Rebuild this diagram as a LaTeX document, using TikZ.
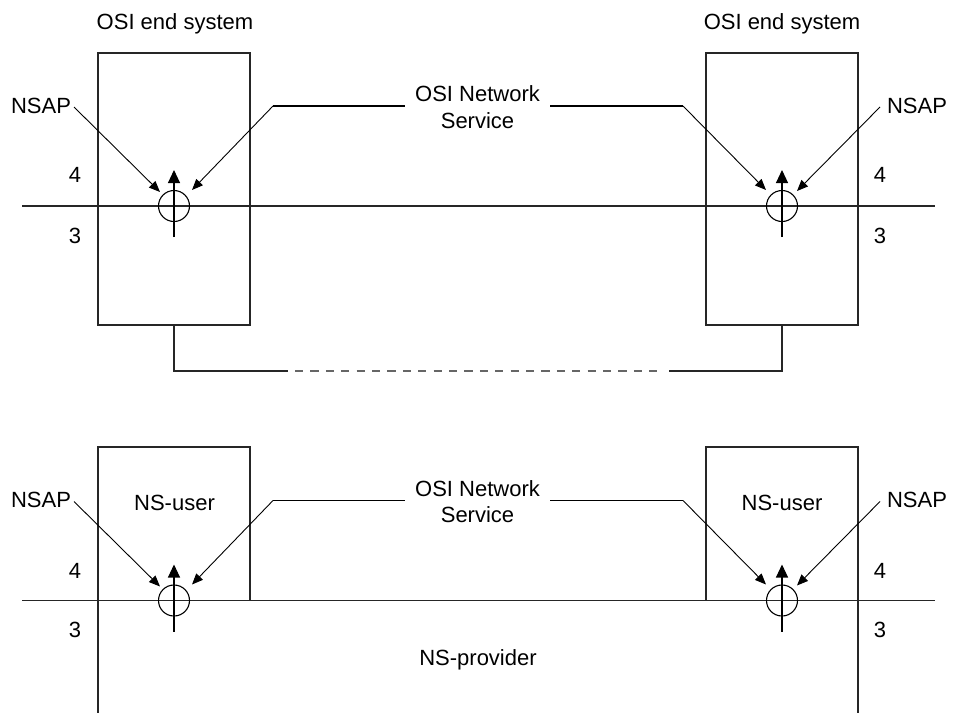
\documentclass[tikz,border=0pt]{standalone}
\usepackage{fontspec}
\setmainfont{Liberation Sans}
\usetikzlibrary{arrows.meta}
\tikzset{
  lbl/.style={inner sep=0pt, anchor=base, font=\fontsize{22}{26.5}\selectfont},
  boxline/.style={draw=black!85, line width=1.2pt},
  thin/.style={draw=black, line width=0.9pt},
  ptr/.style={thin, -{Triangle[length=11pt,width=9pt]}},
  uparrow/.style={draw=black, line width=1.1pt, -{Triangle[length=13pt,width=12pt]}},
  svcline/.style={draw=black, line width=1.8pt},
  sap/.style={circle, draw=black, line width=1.1pt, minimum size=31pt, inner sep=0pt},
  sysbox/.style={boxline, anchor=north west, inner sep=0pt, outer sep=0pt},
}
\begin{document}
\begin{tikzpicture}[x=1pt,y=-1pt]
\useasboundingbox (0,0) rectangle (955,713);
% ---------------- top ----------------
\node[sysbox, minimum width=152pt, minimum height=272pt] (esL) at (98,53) {};
\node[sysbox, minimum width=152pt, minimum height=272pt] (esR) at (706,53) {};
\node[lbl] (esLt) at (175,29.5) {OSI end system};
\node[lbl] (esRt) at (782,29.5) {OSI end system};
\coordinate (lyA1) at (22,206);
\coordinate (lyA2) at (935,206);
\draw[boxline] (lyA1) -- (lyA2);
\node[sap] (sapL) at (174,206) {};
\node[sap] (sapR) at (782,206) {};
\coordinate (vLb) at (174,237);
\coordinate (vLt) at (174,170);
\coordinate (vRb) at (782,237);
\coordinate (vRt) at (782,170);
\draw[uparrow] (vLb) -- (vLt);
\draw[uparrow] (vRb) -- (vRt);
\node[lbl] (nsapL) at (41,113) {NSAP};
\node[lbl] (nsapR) at (917,113) {NSAP};
\coordinate (nLs) at (74,107);
\coordinate (nLe) at (160,192);
\coordinate (nRs) at (880,107);
\coordinate (nRe) at (797,191);
\draw[ptr] (nLs) -- (nLe);
\draw[ptr] (nRs) -- (nRe);
\node[inner xsep=10pt, inner ysep=0pt, align=center, font=\fontsize{22}{26.5}\selectfont] (osiA) at (477.5,107) {OSI Network\\Service};
\coordinate (oAl) at (273,106);
\coordinate (oAr) at (683,106);
\coordinate (oAle) at (192,190);
\coordinate (oAre) at (766,190);
\draw[svcline] (osiA.west |- oAl) -- (oAl);
\draw[svcline] (osiA.east |- oAr) -- (oAr);
\draw[ptr] (oAl) -- (oAle);
\draw[ptr] (oAr) -- (oAre);
\node[lbl] (f4a) at (75,182) {4};
\node[lbl] (f3a) at (75,243) {3};
\node[lbl] (f4b) at (880,182) {4};
\node[lbl] (f3b) at (880,243) {3};
% link between the end systems
\coordinate (cL) at (174,371);
\coordinate (cL2) at (288,371);
\coordinate (cD1) at (295,371);
\coordinate (cD2) at (657,371);
\coordinate (cR2) at (669,371);
\coordinate (cR) at (782,371);
\draw[boxline] (esL.south) -- (cL) -- (cL2);
\draw[boxline, draw=black!60, dash pattern=on 8.2pt off 7.2pt] (cD1) -- (cD2);
\draw[boxline] (cR2) -- (cR) -- (esR.south);
% ---------------- bottom ----------------
\node[sysbox, minimum width=152pt, minimum height=153.5pt] (usL) at (98,447) {};
\node[sysbox, minimum width=152pt, minimum height=153.5pt] (usR) at (706,447) {};
\node[lbl] (usLt) at (174.5,510) {NS-user};
\node[lbl] (usRt) at (782,510) {NS-user};
\coordinate (pL) at (98,713);
\coordinate (pR) at (858,713);
\draw[boxline] (usL.south west) -- (pL);
\draw[boxline] (usR.south east) -- (pR);
\node[lbl] (prov) at (478,665) {NS-provider};
\coordinate (lyB1) at (22,600.5);
\coordinate (lyB2) at (935,600.5);
\draw[boxline] (lyB1) -- (lyB2);
\node[sap] (sapLb) at (174,600.5) {};
\node[sap] (sapRb) at (782,600.5) {};
\coordinate (wLb) at (174,631.5);
\coordinate (wLt) at (174,564.5);
\coordinate (wRb) at (782,631.5);
\coordinate (wRt) at (782,564.5);
\draw[uparrow] (wLb) -- (wLt);
\draw[uparrow] (wRb) -- (wRt);
\node[lbl] (nsapLb) at (41,507.5) {NSAP};
\node[lbl] (nsapRb) at (917,507.5) {NSAP};
\coordinate (mLs) at (74,501.5);
\coordinate (mLe) at (160,586.5);
\coordinate (mRs) at (880,501.5);
\coordinate (mRe) at (797,585.5);
\draw[ptr] (mLs) -- (mLe);
\draw[ptr] (mRs) -- (mRe);
\node[inner xsep=10pt, inner ysep=0pt, align=center, font=\fontsize{22}{26.5}\selectfont] (osiB) at (477.5,501.5) {OSI Network\\Service};
\coordinate (oBl) at (273,500.5);
\coordinate (oBr) at (683,500.5);
\coordinate (oBle) at (192,584.5);
\coordinate (oBre) at (766,584.5);
\draw[svcline] (osiB.west |- oBl) -- (oBl);
\draw[svcline] (osiB.east |- oBr) -- (oBr);
\draw[ptr] (oBl) -- (oBle);
\draw[ptr] (oBr) -- (oBre);
\node[lbl] (g4a) at (75,578) {4};
\node[lbl] (g3a) at (75,637) {3};
\node[lbl] (g4b) at (880,578) {4};
\node[lbl] (g3b) at (880,637) {3};
\end{tikzpicture}
\end{document}
